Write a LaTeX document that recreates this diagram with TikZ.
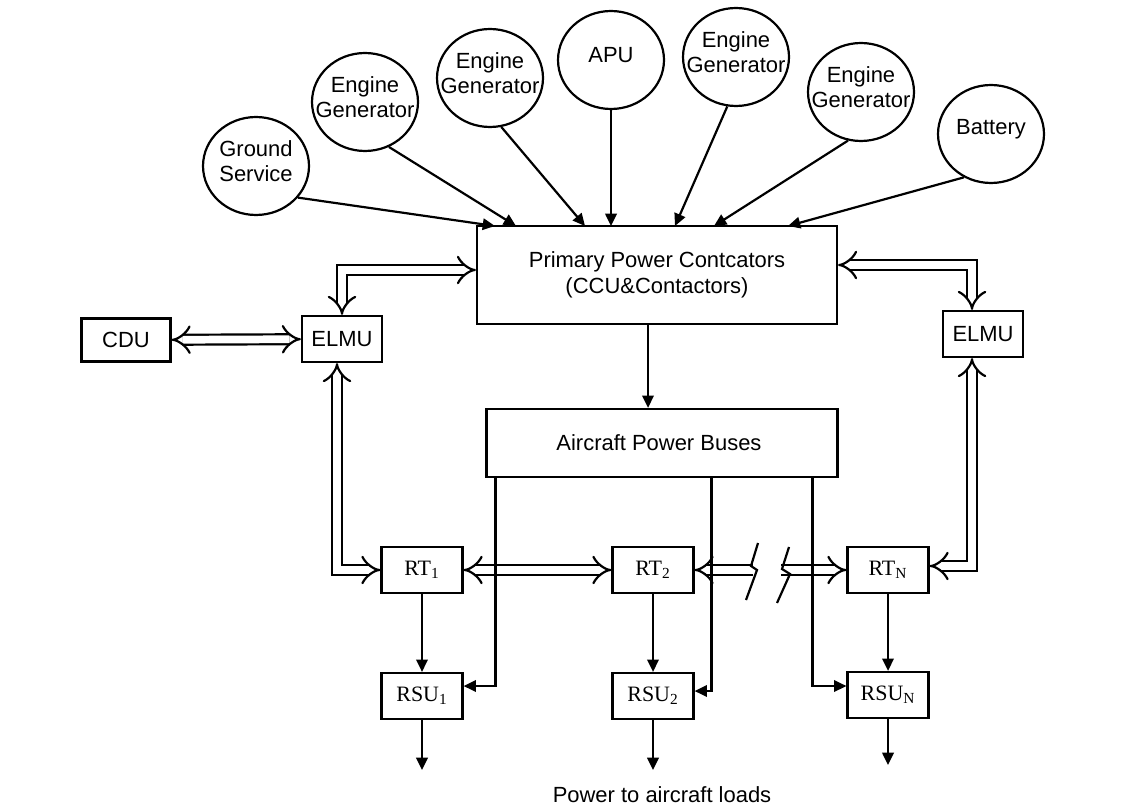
\documentclass[tikz,border=0pt]{standalone}
\usepackage{fontspec}
\setmainfont{Liberation Sans}
\newfontfamily\timesfont{Liberation Serif}
\usepackage{tikz}
\usetikzlibrary{
	arrows.meta,shapes.geometric
}

\tikzset{
	src/.style={draw, ellipse, minimum width=2.12cm, minimum height=1.96cm, inner sep=0pt},
	srclbl/.style={align=center, yshift=0.1cm},
	blk/.style={draw, rectangle, inner sep=0pt, align=center},
	unit/.style={blk, minimum width=1.62cm, minimum height=0.92cm,
		font=\timesfont\fontsize{12.5}{14}\selectfont},
	arr/.style={-{Triangle[length=7pt,width=6.5pt]}},
	dbl/.style={double, double distance=4.4pt, Implies-Implies}
}

\begin{document}
\begin{tikzpicture}[x=0.02cm, y=-0.02cm, line width=1.25pt,
		font=\fontsize{12.5}{14.6}\selectfont]
			\useasboundingbox (0,0) rectangle (1145,807);
			%
			\node[src, label={[srclbl]center:Ground\\Service}] (gs) at (256,166) {};
			\node[src, label={[srclbl]center:Engine\\Generator}] (eg1) at (365,102) {};
			\node[src, label={[srclbl]center:Engine\\Generator}] (eg2) at (490,78) {};
			\node[src, label={[srclbl]center:APU}] (apu) at (611,60) {};
			\node[src, label={[srclbl]center:Engine\\Generator}] (eg3) at (736,57) {};
			\node[src, label={[srclbl]center:Engine\\Generator}] (eg4) at (861,92) {};
			\node[src, label={[srclbl]center:Battery}] (bat) at (991,134) {};
			%
			\node[blk, minimum width=7.2cm, minimum height=1.96cm] (ppc) at (657,275) {
					Primary Power Contcators\\(CCU\&Contactors)
			};
			\node[blk, minimum width=7.02cm, minimum height=1.36cm] (bus) at (662,443) {
					Aircraft Power Buses
			};
			\node[blk, minimum width=1.78cm, minimum height=0.86cm] (cdu) at (126,340) {CDU};
			\node[blk, minimum width=1.6cm, minimum height=0.92cm] (elmuL) at (342,339) {ELMU};
			\node[blk, minimum width=1.6cm, minimum height=0.92cm] (elmuR) at (983,334) {ELMU};
			%
			\node[unit] (rt1) at (422,570) {RT\textsubscript{1}};
			\node[unit] (rt2) at (653,570) {RT\textsubscript{2}};
			\node[unit] (rtN) at (888,570) {RT\textsubscript{N}};
			\node[unit] (rsu1) at (422,696) {RSU\textsubscript{1}};
			\node[unit] (rsu2) at (653,696) {RSU\textsubscript{2}};
			\node[unit] (rsuN) at (888,695) {RSU\textsubscript{N}};
			\node (loads) at (662,795) {Power to aircraft loads};
			%
			\coordinate (in1) at (495,226);
			\coordinate (in2) at (516,226);
			\coordinate (in3) at (585,226);
			\coordinate (in4) at (611,226);
			\coordinate (in5) at (675,226);
			\coordinate (in6) at (714,226);
			\coordinate (in7) at (788,226);
			\coordinate (brkL) at (753,570);
			\coordinate (brkR) at (781,570);
			\coordinate (out1) at (422,770);
			\coordinate (out2) at (653,770);
			\coordinate (outN) at (888,765);
			%
			\path[arr]
				(gs.-37) edge (in1)
				(eg1.-62) edge (in2)
				(eg2.-77) edge (in3)
				(apu.south) edge (in4)
				(eg3.-100) edge (in5)
				(eg4.-105) edge (in6)
				(bat.-122) edge (in7)
				([xshift=-0.18cm]ppc.south) edge ([xshift=-0.18cm]ppc.south |- bus.north)
				(rt1) edge (rsu1)
				(rt2) edge (rsu2)
				(rtN) edge (rsuN)
				(rsu1) edge (out1)
				(rsu2) edge (out2)
				(rsuN) edge (outN);
			%
			\draw[dbl] (cdu) -- (elmuL);
			\draw[dbl] (elmuL.north) |- ([yshift=0.1cm]ppc.west);
			\draw[dbl] ([xshift=-0.22cm]elmuR.north) |- ([yshift=0.2cm]ppc.east);
			\draw[dbl] ([xshift=-0.1cm]elmuL.south) |- (rt1.west);
			\draw[dbl] ([xshift=-0.22cm]elmuR.south) |- ([yshift=0.08cm]rtN.east);
			\draw[dbl] (rt1) -- (rt2);
			\draw[dbl, Implies-] (rt2) -- (brkL);
			\draw[dbl, -Implies] (brkR) -- (rtN);
			%
			\draw (758,543) -- (751,566) -- (757,570) -- (746,600);
			\draw (789,547) -- (782,569) -- (790,574) -- (777,603);
			%
			\draw[arr] ([xshift=0.2cm]bus.south west) |- ([yshift=0.2cm]rsu1.east);
			\draw[arr] ([xshift=4.52cm]bus.south west) |- ([yshift=0.1cm]rsu2.east);
			\draw[arr] ([xshift=-0.52cm]bus.south east) |- ([yshift=0.18cm]rsuN.west);
		\end{tikzpicture}
\end{document}
